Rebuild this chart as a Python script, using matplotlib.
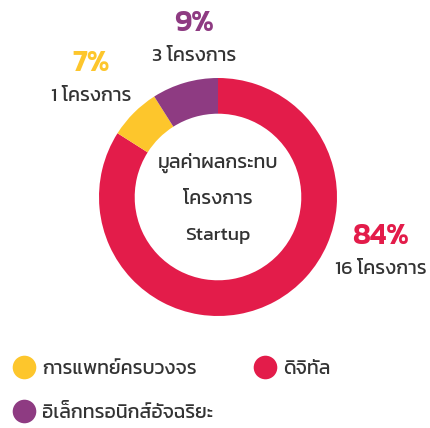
import matplotlib
matplotlib.use("Agg")
import matplotlib.pyplot as plt
from matplotlib.lines import Line2D

plt.rcParams["font.family"] = ["Kanit", "DejaVu Sans"]

# share of Startup project impact value by sector
sectors = ["ดิจิทัล", "การแพทย์ครบวงจร", "อิเล็กทรอนิกส์อัจฉริยะ"]
shares = [84, 7, 9]
projects = [16, 1, 3]
colors = ["#E31C4A", "#FDC62C", "#8E3B82"]
TEXT = "#333333"

fig = plt.figure(figsize=(4.31, 4.28), dpi=100)
ax = fig.add_axes([0, 0, 1, 1])

cx, cy, r = 218, 231, 119
ax.pie(shares, colors=colors, startangle=90, counterclock=False,
       center=(cx, cy), radius=r,
       wedgeprops=dict(width=r * 0.3, linewidth=0))
ax.set_xlim(0, 431)
ax.set_ylim(0, 428)
ax.set_aspect("equal")
ax.axis("off")

# centre caption
for i, line in enumerate(["มูลค่าผลกระทบ", "โครงการ", "Startup"]):
    ax.text(cx, cy + 34 - i * 36, line, ha="center", va="center",
            fontsize=14, color=TEXT)

# percentage + project count beside each slice
label_pos = {0: (381, 192), 1: (91, 365), 2: (194, 405)}
for i, (x, y) in label_pos.items():
    ax.text(x, y, f"{shares[i]}%", ha="center", va="center",
            fontsize=21.5, fontweight="semibold", color=colors[i])
    ax.text(x, y - 33, f"{projects[i]} โครงการ", ha="center", va="center",
            fontsize=14, color=TEXT)

order = [1, 2, 0]
handles = [Line2D([], [], marker="o", linestyle="none", markersize=17,
                  markerfacecolor=colors[i], markeredgewidth=0) for i in order]
fig.legend(handles, [sectors[i] for i in order], ncol=2, frameon=False,
           loc="lower left", bbox_to_anchor=(0.0, -0.02),
           prop=dict(size=14), labelcolor=TEXT,
           handlelength=1.0, handletextpad=0.4, columnspacing=2.2,
           labelspacing=1.35, borderpad=0.25)

fig.savefig("out.png")
